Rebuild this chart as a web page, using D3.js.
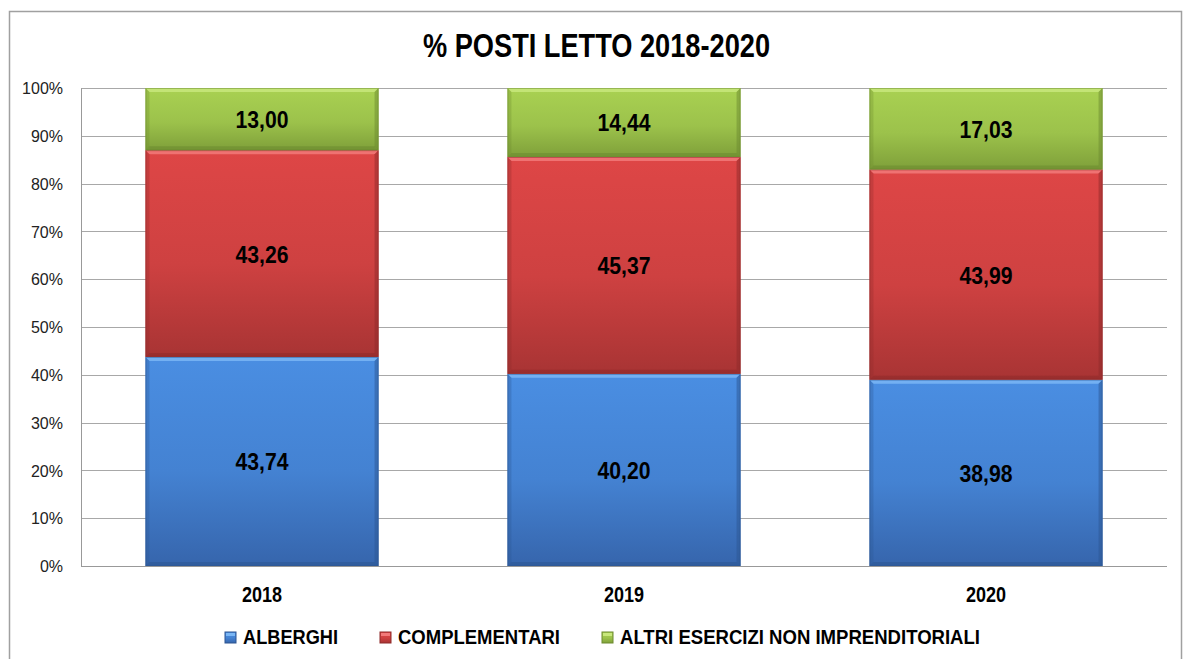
<!DOCTYPE html>
<html>
<head>
  <meta charset="utf-8">
  <title>% POSTI LETTO 2018-2020</title>
  <script src="https://d3js.org/d3.v7.min.js"></script>
  <style>
    body { margin: 0; background: #fff; }
    .narrow { font-family: "Liberation Sans Narrow", "Arial Narrow", "Liberation Sans", Arial, sans-serif; font-weight: bold; }
    .ytick text { font-family: "Liberation Sans", Arial, sans-serif; font-size: 16px; fill: #222; }
  </style>
</head>
<body>
  <script>
    // data
    var years = ["2018", "2019", "2020"];
    var seriesNames = ["ALBERGHI", "COMPLEMENTARI", "ALTRI ESERCIZI NON IMPRENDITORIALI"];
    var alberghi = [43.74, 40.20, 38.98];
    var complementari = [43.26, 45.37, 43.99];
    var altri = [13.00, 14.44, 17.03];
    var yTicks = [0, 10, 20, 30, 40, 50, 60, 70, 80, 90, 100];

    var W = 1183, H = 659;
    var plot = { left: 81, right: 1167, top: 88, bottom: 566 };

    // colours: [top, bottom, highlight, edge]
    var palette = [
      ["#4a8ee2", "#3665ac", "#7ab6f4", "#2c5591"],
      ["#de4646", "#a83434", "#f27a7a", "#8e2a2a"],
      ["#a9d152", "#7fa03a", "#c8e77c", "#6c8a2f"]
    ];

    var svg = d3.select("body").append("svg")
      .attr("width", W)
      .attr("height", H);

    var defs = svg.append("defs");
    palette.forEach(function(p, i) {
      var g = defs.append("linearGradient")
        .attr("id", "grad" + i)
        .attr("x1", 0).attr("y1", 0).attr("x2", 0).attr("y2", 1);
      g.append("stop").attr("offset", "0%").attr("stop-color", p[0]);
      g.append("stop").attr("offset", "55%").attr("stop-color", d3.interpolateRgb(p[0], p[1])(0.3));
      g.append("stop").attr("offset", "100%").attr("stop-color", p[1]);
    });

    // chart frame
    svg.append("rect")
      .attr("x", 9.5).attr("y", 11.5)
      .attr("width", 1172).attr("height", 700)
      .attr("fill", "none")
      .attr("stroke", "#a0a0a0")
      .attr("stroke-width", 1.5);

    var x = d3.scaleBand()
      .domain(years)
      .range([plot.left, plot.right])
      .paddingInner(0.356)
      .paddingOuter(0.178);

    var y = d3.scaleLinear()
      .domain([0, 100])
      .range([plot.bottom, plot.top]);

    // gridlines
    svg.append("g")
      .selectAll("line")
      .data(yTicks)
      .enter()
      .append("line")
      .attr("x1", plot.left)
      .attr("x2", plot.right)
      .attr("y1", function(d) { return Math.round(y(d)) + 0.5; })
      .attr("y2", function(d) { return Math.round(y(d)) + 0.5; })
      .attr("stroke", "#a8a8a8")
      .attr("stroke-width", 1);

    // y axis
    var yAxis = d3.axisLeft(y)
      .tickValues(yTicks)
      .tickSize(0)
      .tickPadding(18)
      .tickFormat(function(d) { return d + "%"; });

    var yg = svg.append("g")
      .attr("class", "ytick")
      .attr("transform", "translate(" + plot.left + ",0)")
      .call(yAxis);
    yg.select(".domain").attr("stroke", "#999");
    yg.selectAll("text").attr("dy", "0.36em");

    svg.append("line")
      .attr("x1", plot.left).attr("x2", plot.right)
      .attr("y1", plot.bottom + 0.5).attr("y2", plot.bottom + 0.5)
      .attr("stroke", "#999");

    // stacked data
    var rows = years.map(function(yr, i) {
      return { year: yr, ALBERGHI: alberghi[i], COMPLEMENTARI: complementari[i], ALTRI: altri[i] };
    });
    var stack = d3.stack().keys(["ALBERGHI", "COMPLEMENTARI", "ALTRI"]);
    var layers = stack(rows);

    var bw = x.bandwidth();
    var bev = 4;

    layers.forEach(function(layer, si) {
      var p = palette[si];
      var g = svg.append("g");
      layer.forEach(function(d) {
        var x0 = x(d.data.year);
        var y0 = y(Math.min(d[1], 100));
        var y1 = y(d[0]);
        var h = y1 - y0;
        g.append("rect")
          .attr("x", x0).attr("y", y0)
          .attr("width", bw).attr("height", h)
          .attr("fill", "url(#grad" + si + ")");
        // top bevel
        g.append("polygon")
          .attr("points", [[x0, y0], [x0 + bw, y0], [x0 + bw - bev, y0 + bev], [x0 + bev, y0 + bev]].join(" "))
          .attr("fill", p[2]).attr("opacity", 0.85);
        // side bevels
        g.append("polygon")
          .attr("points", [[x0, y0], [x0 + bev, y0 + bev], [x0 + bev, y1 - bev], [x0, y1]].join(" "))
          .attr("fill", p[3]).attr("opacity", 0.3);
        g.append("polygon")
          .attr("points", [[x0 + bw, y0], [x0 + bw - bev, y0 + bev], [x0 + bw - bev, y1 - bev], [x0 + bw, y1]].join(" "))
          .attr("fill", p[3]).attr("opacity", 0.5);
        // bottom bevel
        g.append("polygon")
          .attr("points", [[x0, y1], [x0 + bev, y1 - bev], [x0 + bw - bev, y1 - bev], [x0 + bw, y1]].join(" "))
          .attr("fill", p[3]).attr("opacity", 0.55);
        g.append("rect")
          .attr("x", x0 + 0.5).attr("y", y0 + 0.5)
          .attr("width", bw - 1).attr("height", h - 1)
          .attr("fill", "none")
          .attr("stroke", p[3]).attr("stroke-opacity", 0.5);
      });

      // value labels
      svg.append("g")
        .selectAll("text")
        .data(layer)
        .enter()
        .append("text")
        .attr("class", "narrow")
        .attr("x", function(d) { return x(d.data.year) + bw / 2; })
        .attr("y", function(d) { return (y(Math.min(d[1], 100)) + y(d[0])) / 2 + 9; })
        .attr("text-anchor", "middle")
        .style("font-size", "23px")
        .attr("textLength", 53)
        .attr("lengthAdjust", "spacingAndGlyphs")
        .attr("fill", "#000")
        .text(function(d) { return (d[1] - d[0]).toFixed(2).replace(".", ","); });
    });

    // x labels
    svg.append("g")
      .selectAll("text")
      .data(years)
      .enter()
      .append("text")
      .attr("class", "narrow")
      .attr("x", function(d) { return x(d) + bw / 2; })
      .attr("y", 602)
      .attr("text-anchor", "middle")
      .style("font-size", "22px")
      .attr("textLength", 40)
      .attr("lengthAdjust", "spacingAndGlyphs")
      .text(function(d) { return d; });

    // title
    svg.append("text")
      .attr("class", "narrow")
      .attr("x", 596.5)
      .attr("y", 57)
      .attr("text-anchor", "middle")
      .style("font-size", "33px")
      .attr("textLength", 347)
      .attr("lengthAdjust", "spacingAndGlyphs")
      .text("% POSTI LETTO 2018-2020");

    // legend
    var legendX = [225, 380, 602];
    var legendW = [95, 162, 360];
    var leg = svg.append("g");
    seriesNames.forEach(function(name, i) {
      var p = palette[i];
      leg.append("rect")
        .attr("x", legendX[i]).attr("y", 632)
        .attr("width", 11).attr("height", 11)
        .attr("fill", "url(#grad" + i + ")")
        .attr("stroke", p[3]).attr("stroke-width", 1);
      leg.append("rect")
        .attr("x", legendX[i] + 1).attr("y", 633)
        .attr("width", 9).attr("height", 3)
        .attr("fill", p[2]);
      leg.append("text")
        .attr("class", "narrow")
        .attr("x", legendX[i] + 18)
        .attr("y", 644)
        .style("font-size", "20px")
        .attr("textLength", legendW[i])
        .attr("lengthAdjust", "spacingAndGlyphs")
        .text(name);
    });
  </script>
</body>
</html>
